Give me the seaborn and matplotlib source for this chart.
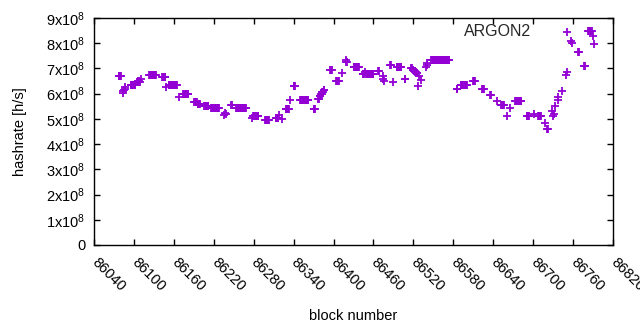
import numpy as np
import pandas as pd
import matplotlib
matplotlib.use("Agg")
import matplotlib.pyplot as plt
import seaborn as sns

# Run-length encoded data: first block, number of consecutive blocks, hashrate (x1e8 h/s)
run_start = [86077, 86083, 86084, 86085, 86086, 86087, 86095, 86104, 86106, 86108, 86110,
             86123, 86142, 86148, 86152, 86168, 86174, 86191, 86196, 86206, 86216,
             86236, 86237, 86238, 86246, 86254, 86277, 86279, 86297, 86313, 86318,
             86322, 86328, 86335, 86340, 86350, 86370, 86377, 86379, 86381, 86383,
             86385, 86395, 86404, 86413, 86418, 86419, 86430, 86444, 86447, 86449,
             86467, 86474, 86475, 86476, 86485, 86489, 86495, 86507, 86517, 86519,
             86521, 86523, 86525, 86527, 86528, 86531, 86539, 86540, 86541, 86547,
             86585, 86591, 86610, 86623, 86635, 86645, 86652, 86661, 86665, 86673,
             86690, 86702, 86708, 86718, 86721, 86729, 86730, 86731, 86733, 86737,
             86738, 86743, 86750, 86751, 86757, 86758, 86768, 86777, 86783, 86790,
             86791]
run_count = [4, 1, 1, 1, 1, 1, 8, 2, 2, 2, 1,
             11, 6, 1, 13, 1, 9, 5, 4, 7, 13,
             1, 1, 1, 2, 15, 1, 9, 7, 5, 1,
             1, 6, 1, 3, 13, 3, 2, 2, 2, 2,
             2, 3, 5, 1, 1, 2, 9, 3, 1, 12,
             2, 1, 1, 1, 2, 1, 8, 2, 2, 2,
             2, 2, 2, 1, 1, 1, 1, 1, 1, 28,
             2, 10, 3, 4, 2, 1, 5, 1, 1, 10,
             5, 1, 5, 1, 2, 1, 1, 1, 1, 1,
             1, 1, 1, 1, 1, 1, 2, 2, 6, 1,
             1]
run_value = [6.70, 6.02, 6.10, 6.15, 6.20, 6.25, 6.35, 6.45, 6.52, 6.48, 6.60,
             6.75, 6.68, 6.25, 6.35, 5.85, 6.00, 5.65, 5.58, 5.52, 5.42,
             5.15, 5.25, 5.20, 5.55, 5.42, 5.02, 5.10, 4.95, 5.05, 5.15,
             5.00, 5.40, 5.75, 6.30, 5.75, 5.40, 5.80, 5.90, 5.98, 6.05,
             6.15, 6.95, 6.50, 6.80, 7.35, 7.25, 7.05, 6.77, 6.87, 6.77,
             6.90, 6.70, 6.60, 6.50, 7.15, 6.46, 7.05, 6.60, 7.00, 6.95,
             6.90, 6.85, 6.80, 6.30, 6.70, 6.55, 7.05, 7.15, 7.20, 7.34,
             6.20, 6.35, 6.50, 6.20, 5.95, 5.70, 5.55, 5.10, 5.45, 5.70,
             5.10, 5.20, 5.10, 4.85, 4.60, 5.30, 5.10, 5.20, 5.50, 5.75,
             5.85, 6.10, 6.75, 6.85, 8.10, 8.00, 7.65, 7.10, 8.50, 8.30,
             7.95]

series_label = "ARGON2"
x_ticks = list(range(86040, 86821, 60))
y_ticks = [i * 1e8 for i in range(10)]
y_tick_labels = ["0"] + [f"{i}x10$^{{8}}$" for i in range(1, 10)]

blocks = np.concatenate([np.arange(s, s + c) for s, c in zip(run_start, run_count)])
rates = np.repeat(np.array(run_value) * 1e8, run_count)
df = pd.DataFrame({"block": blocks, "hashrate": rates})

sns.set_theme(style="ticks")
plt.rcParams["font.family"] = ["Liberation Sans", "DejaVu Sans"]
plt.rcParams["mathtext.default"] = "regular"

fig = plt.figure(figsize=(6.4, 3.3), dpi=100)
ax = fig.add_axes([94 / 640, 1 - 245 / 330, (613 - 94) / 640, (245 - 18) / 330])

purple = "#9400d3"
sns.scatterplot(data=df, x="block", y="hashrate", marker="+", color=purple,
                s=40, linewidth=1.3, ax=ax, label=series_label, legend=True)

ax.set_xlim(86040, 86820)
ax.set_ylim(0, 9e8)
ax.set_xticks(x_ticks)
ax.set_xticklabels([str(t) for t in x_ticks], rotation=-45, ha="left", va="center",
                   rotation_mode="anchor", fontsize=10.5)
ax.set_yticks(y_ticks)
ax.set_yticklabels(y_tick_labels, fontsize=10.5)
ax.tick_params(direction="in", length=4, width=1, top=True, right=True, color="black",
               labelcolor="black")
ax.tick_params(axis="x", pad=11)
ax.tick_params(axis="y", pad=6)
for sp in ax.spines.values():
    sp.set_visible(True)
    sp.set_color("black")
    sp.set_linewidth(1)
ax.set_xlabel("block number", fontsize=10.5, color="black", labelpad=11)
ax.set_ylabel("hashrate [h/s]", fontsize=10.5, color="black", labelpad=14)

leg = ax.legend(loc="upper right", bbox_to_anchor=(589 / 640, 1 - 18 / 330),
                bbox_transform=fig.transFigure, frameon=False,
                markerfirst=False, fontsize=11.5, handletextpad=1.2,
                borderaxespad=0.0, handlelength=2.0)

fig.savefig("out.png", dpi=100)
